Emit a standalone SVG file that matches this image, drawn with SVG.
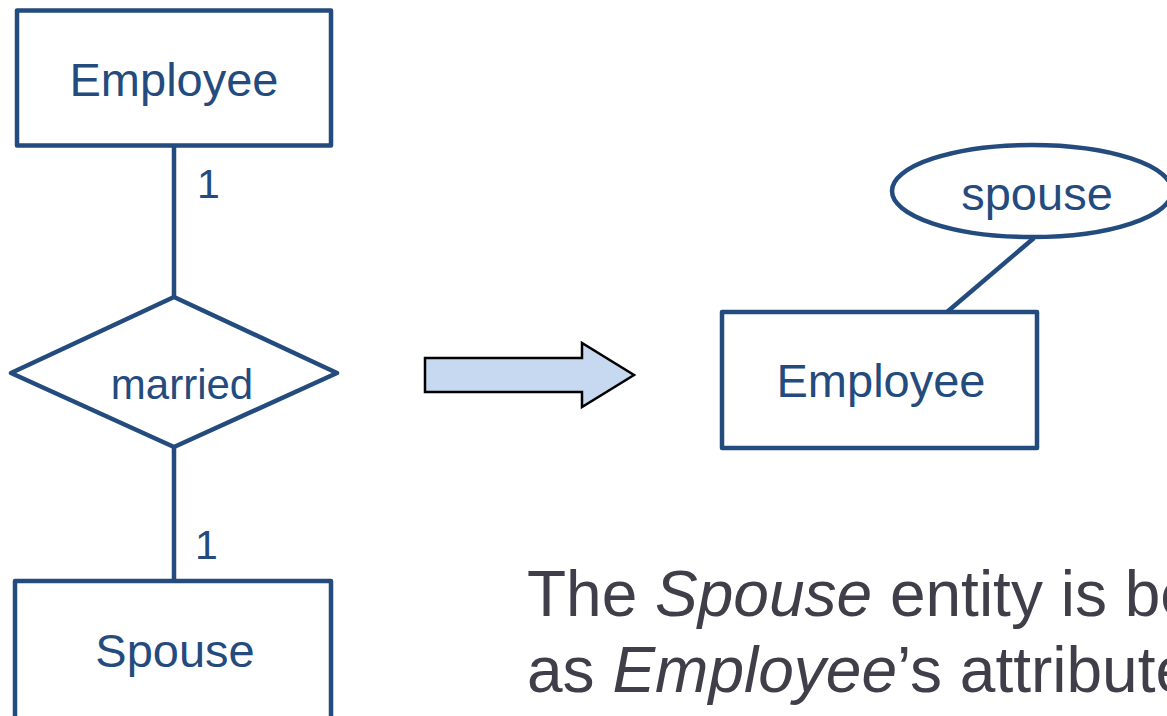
<svg xmlns="http://www.w3.org/2000/svg" width="1167" height="716" viewBox="0 0 1167 716">
<style>
.shape{fill:#ffffff;stroke:#234b7e;stroke-width:4.5;stroke-linejoin:round}
.edge{fill:none;stroke:#234b7e;stroke-width:4.5}
.lbl{font-family:"Liberation Sans",Arial,sans-serif;font-size:47px;fill:#234b7e;text-anchor:middle}
.card{font-family:"Liberation Sans",Arial,sans-serif;font-size:41px;fill:#234b7e}
.note{font-family:"Liberation Sans",Arial,sans-serif;font-size:64px;fill:#403f49}
</style>
<rect width="1167" height="716" fill="#ffffff"/>
<g id="connectors">
<line class="edge" x1="174" y1="146" x2="174" y2="298"/>
<line class="edge" x1="174" y1="447" x2="174" y2="581"/>
<line class="edge" x1="1034" y1="238" x2="947" y2="312"/>
<text class="card" x="197" y="198">1</text>
<text class="card" x="195" y="559">1</text>
</g>
<g id="employee-left">
<rect class="shape" x="17" y="10.5" width="314" height="135"/>
<text class="lbl" x="174" y="96">Employee</text>
</g>
<g id="married">
<polygon class="shape" points="174,297 337,373 174,447 11,373"/>
<text class="lbl" x="182" y="399" style="font-size:42px">married</text>
</g>
<g id="spouse-entity">
<rect class="shape" x="15" y="581" width="316" height="140"/>
<text class="lbl" x="175" y="667">Spouse</text>
</g>
<g id="transform-arrow">
<polygon points="425,358 582,358 582,343 634,375 582,407 582,392 425,392" fill="#c6d9f0" stroke="#000000" stroke-width="2.5" stroke-linejoin="miter"/>
</g>
<g id="employee-right">
<rect class="shape" x="722" y="312" width="315" height="136"/>
<text class="lbl" x="881" y="397">Employee</text>
</g>
<g id="spouse-attribute">
<ellipse class="shape" cx="1032" cy="191" rx="140" ry="46"/>
<text class="lbl" x="1037" y="210">spouse</text>
</g>
<g id="note">
<text class="note" x="527" y="616">The <tspan font-style="italic">Spouse</tspan> entity is be</text>
<text class="note" x="527" y="692">as <tspan font-style="italic">Employee</tspan>’s attribute</text>
</g>
</svg>
